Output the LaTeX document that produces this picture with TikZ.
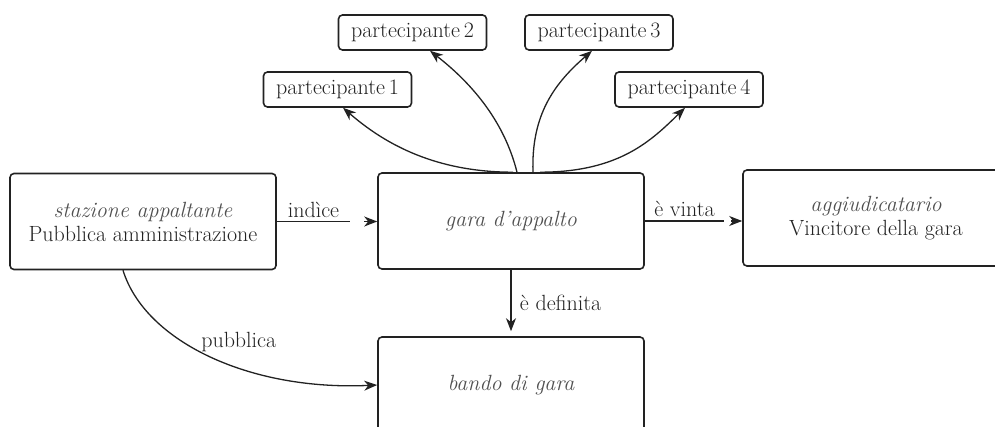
\documentclass[tikz,border=0pt]{standalone}
\usepackage{fontspec}
\usetikzlibrary{arrows.meta}
\definecolor{txtgray}{HTML}{505050}
\definecolor{linedark}{HTML}{222222}
\tikzset{
  box/.style={draw=linedark, line width=1.6pt, rounded corners=4pt,
    minimum width=266pt, minimum height=96pt, align=center,
    text=linedark, font=\fontsize{22}{24}\selectfont},
  pbox/.style={box, minimum width=148pt, minimum height=35pt},
  conn/.style={draw=linedark, line width=1.3pt},
  arr/.style={conn, -{Stealth[length=13pt,width=10pt,inset=4pt]}},
  lbl/.style={text=linedark, font=\fontsize{22}{24}\selectfont},
}
\newcommand{\ittxt}[1]{{\itshape\color{txtgray}#1}}

\begin{document}
\begin{tikzpicture}[x=1pt,y=-1pt]
\clip (0,0) rectangle (995,427);
% main boxes
\node[box] (staz) at (143,221.5) {\ittxt{stazione appaltante}\\Pubblica amministrazione};
\node[box] (gara) at (511,221) {\ittxt{gara d’appalto}};
\node[box] (aggiud) at (876,218) {\ittxt{aggiudicatario}\\Vincitore della gara};
\node[box] (bando) at (511,385) {\ittxt{bando di gara}};
% partecipanti
\node[pbox] (part1) at (337.5,89.5) {partecipante\,1};
\node[pbox] (part2) at (412.5,32.5) {partecipante\,2};
\node[pbox] (part3) at (599,32.5) {partecipante\,3};
\node[pbox] (part4) at (689,89.5) {partecipante\,4};

% labelled line, then the tip on its own
\draw[conn] (staz.east) -- node[lbl, above] {indìce} ([xshift=-27pt]staz.east -| gara.west);
\draw[arr] ([xshift=-13pt]staz.east -| gara.west) -- (staz.east -| gara.west);
\draw[conn] (gara.east) -- node[lbl, above] {è vinta} ([xshift=-18pt]gara.east -| aggiud.west);
\draw[arr] ([xshift=-11pt]gara.east -| aggiud.west) -- (gara.east -| aggiud.west);
\draw[arr, shorten >=5pt] (gara) -- node[lbl, right=5pt] {è definita} (bando);
\draw[arr] ([xshift=-20pt]staz.south) .. controls +(22,71) and +(-128,6) ..
  node[lbl, pos=0.6, above=12pt] {pubblica} (bando.west);

% gara -> partecipanti
\draw[arr] ([xshift=2pt]gara.north) .. controls +(-83,0) and +(37,32) .. ([xshift=5.5pt]part1.south);
\draw[arr] ([xshift=6pt]gara.north) .. controls +(-12,-48) and +(45,35) .. ([xshift=17.5pt]part2.south);
\draw[arr] ([xshift=22pt]gara.north) .. controls +(-2,-58) and +(-37,32) .. ([xshift=-7pt]part3.south);
\draw[arr] ([xshift=29pt]gara.north) .. controls +(80,0) and +(-33,32) .. ([xshift=-4pt]part4.south);
\end{tikzpicture}
\end{document}
